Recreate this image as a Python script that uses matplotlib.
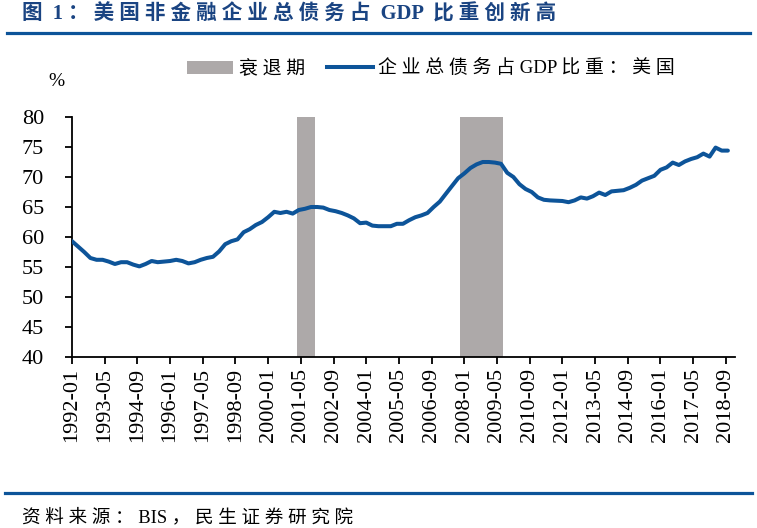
import pandas as pd
import matplotlib
matplotlib.use('Agg')
import matplotlib.pyplot as plt
from matplotlib.patches import Patch
from matplotlib.lines import Line2D

# quarterly ratio of non-financial corporate debt to GDP, US (%)
start = '1992-01-01'
debt_ratio = [
    59.3, 58.4, 57.5, 56.5, 56.2, 56.2, 55.9, 55.5, 55.8, 55.8,
    55.4, 55.1, 55.5, 56.0, 55.8, 55.9, 56.0, 56.2, 56.0, 55.6,
    55.8, 56.2, 56.5, 56.7, 57.6, 58.8, 59.3, 59.6, 60.8, 61.3,
    62.0, 62.5, 63.3, 64.2, 64.0, 64.2, 63.9, 64.5, 64.7, 65.0,
    65.0, 64.9, 64.5, 64.3, 64.0, 63.6, 63.1, 62.3, 62.4, 61.9,
    61.8, 61.8, 61.8, 62.2, 62.2, 62.8, 63.3, 63.6, 64.0, 65.0,
    65.9, 67.2, 68.5, 69.8, 70.6, 71.5, 72.1, 72.5, 72.5, 72.4,
    72.2, 70.7, 70.0, 68.8, 68.0, 67.5, 66.6, 66.2, 66.1, 66.05,
    66.0, 65.8, 66.1, 66.6, 66.4, 66.8, 67.4, 67.0, 67.6, 67.7,
    67.8, 68.2, 68.7, 69.4, 69.8, 70.2, 71.2, 71.6, 72.4, 72.0,
    72.6, 73.0, 73.3, 73.9, 73.4, 74.9, 74.4, 74.4,
]
dates = pd.date_range(start, periods=len(debt_ratio), freq='3MS')

recessions = [('2001-03-01', '2001-12-01'), ('2007-11-01', '2009-08-01')]
tick_labels = ['1992-01', '1993-05', '1994-09', '1996-01', '1997-05', '1998-09',
               '2000-01', '2001-05', '2002-09', '2004-01', '2005-05', '2006-09',
               '2008-01', '2009-05', '2010-09', '2012-01', '2013-05', '2014-09',
               '2016-01', '2017-05', '2018-09']

blue = '#0D5499'
grey = '#ADA9A9'
mixed = ['Liberation Serif', 'Noto Sans CJK SC']

fig = plt.figure(figsize=(7.57, 5.28), dpi=100)
ax = fig.add_axes([72/757, 1 - 357/528, (735 - 72)/757, 240/528])

for a, b in recessions:
    ax.axvspan(pd.Timestamp(a), pd.Timestamp(b), color=grey, lw=0, zorder=1)
ax.plot(dates, debt_ratio, color=blue, lw=2.9, zorder=3, solid_capstyle='round')

ax.set_ylim(40, 80)
ax.set_yticks(range(40, 81, 5))
ax.set_xlim(pd.Timestamp('1992-01-01'), pd.Timestamp('2019-01-15'))
ticks = [pd.Timestamp(t + '-01') for t in tick_labels]
ax.set_xticks(ticks)
ax.set_xticklabels(tick_labels, rotation=90, va='top', ha='center')

for s in ['top', 'right']:
    ax.spines[s].set_visible(False)
for s in ['left', 'bottom']:
    ax.spines[s].set_linewidth(1.3)
ax.tick_params(axis='both', direction='out', length=5, width=1.3, labelsize=16)
ax.tick_params(axis='y', pad=15)
ax.tick_params(axis='x', pad=3)
for lab in ax.get_xticklabels() + ax.get_yticklabels():
    lab.set_family('Liberation Serif')

fig.text(56/757, 1 - 82/528, '%', fontsize=14, family='Liberation Serif',
         ha='center', va='center')

handles = [Patch(facecolor=grey, edgecolor='none'),
           Line2D([0], [0], color=blue, lw=2.9)]
labels = ['衰 退 期', '企 业 总 债 务 占 GDP 比 重 ： 美 国']
fig.legend(handles, labels, loc='center', bbox_to_anchor=(431/757, 1 - 69/528),
           ncol=2, frameon=False, handlelength=2.45, handleheight=0.75,
           handletextpad=0.3, columnspacing=1.15,
           prop={'family': mixed, 'size': 13.6})

# header and footer
fig.text(22/757, 1 - 14/528, '图  1 ： 美 国 非 金 融 企 业 总 债 务 占  GDP  比 重 创 新 高',
         fontsize=14.8, fontweight='bold', color='#1A4482', family=mixed,
         ha='left', va='center')
fig.add_artist(Line2D([7/757, 750/757], [1 - 33/528, 1 - 33/528],
                      color=blue, lw=2.3, transform=fig.transFigure))
fig.add_artist(Line2D([5/757, 752/757], [1 - 492.5/528, 1 - 492.5/528],
                      color=blue, lw=2.3, transform=fig.transFigure))
fig.text(22/757, 1 - 517/528, '资 料 来 源 ： BIS ， 民 生 证 券 研 究 院',
         fontsize=13.4, family=mixed, ha='left', va='center')

fig.savefig('out.png', dpi=100)
